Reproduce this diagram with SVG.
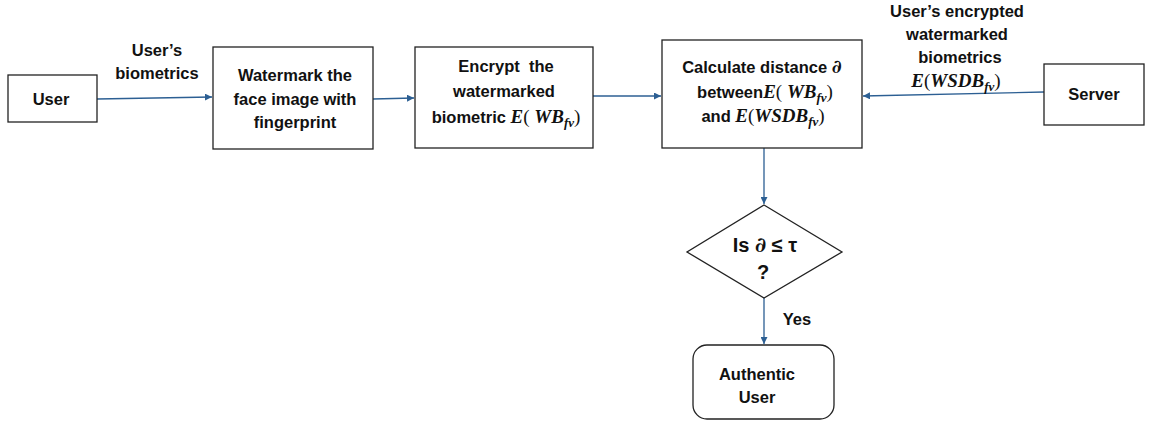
<svg xmlns="http://www.w3.org/2000/svg" width="1149" height="423" viewBox="0 0 1149 423">
  <style>
    .box { fill: #ffffff; stroke: #222222; stroke-width: 1.3; }
    .t { font-family: "Liberation Sans", Arial, sans-serif; font-weight: bold; font-size: 16.5px; fill: #111111; text-anchor: middle; }
    .big { font-size: 20px; }
    .m { font-family: "Liberation Serif", "DejaVu Serif", serif; font-style: italic; font-weight: bold; font-size: 19px; }
    .p { font-family: "Liberation Serif", "DejaVu Serif", serif; font-style: normal; font-weight: normal; font-size: 19px; }
    .d { font-family: "DejaVu Serif", serif; font-style: italic; font-weight: bold; font-size: 19px; }
    .sub { font-size: 13px; }
    .edge { fill: none; stroke: #2c5f93; stroke-width: 1.3; }
  </style>
  <defs>
    <marker id="arrow" viewBox="0 0 10 10" refX="10" refY="5" markerWidth="7" markerHeight="7" markerUnits="userSpaceOnUse" orient="auto">
      <path d="M0,0 L10,5 L0,10 z" fill="#2c5f93"/>
    </marker>
  </defs>
  <rect width="1149" height="423" fill="#ffffff"/>

  <g id="connectors">
    <line class="edge" x1="97" y1="99" x2="212" y2="97" marker-end="url(#arrow)"/>
    <line class="edge" x1="373" y1="99" x2="414" y2="98" marker-end="url(#arrow)"/>
    <line class="edge" x1="593" y1="96" x2="661" y2="96" marker-end="url(#arrow)"/>
    <line class="edge" x1="1044" y1="92" x2="863" y2="96" marker-end="url(#arrow)"/>
    <line class="edge" x1="764" y1="148" x2="764" y2="204" marker-end="url(#arrow)"/>
    <line class="edge" x1="764" y1="298" x2="764" y2="344" marker-end="url(#arrow)"/>
    <text class="t" x="157" y="56">User’s</text>
    <text class="t" x="157" y="79">biometrics</text>
    <text class="t" x="957" y="17">User’s encrypted</text>
    <text class="t" x="957" y="40">watermarked</text>
    <text class="t" x="960" y="63">biometrics</text>
    <text class="t" x="956" y="87"><tspan class="m">E</tspan><tspan class="p">(</tspan><tspan class="m">WSDB</tspan><tspan class="m sub" dy="4">fv</tspan><tspan class="p" dy="-4">)</tspan></text>
    <text class="t" x="797" y="325">Yes</text>
  </g>

  <g id="user">
    <rect class="box" x="8" y="75" width="89" height="47"/>
    <text class="t" x="51" y="105">User</text>
  </g>

  <g id="watermark">
    <rect class="box" x="213" y="47" width="160" height="102"/>
    <text class="t" x="295" y="81">Watermark the</text>
    <text class="t" x="295" y="105">face image with</text>
    <text class="t" x="295" y="128">fingerprint</text>
  </g>

  <g id="encrypt">
    <rect class="box" x="415" y="47" width="178" height="101"/>
    <text class="t" x="506" y="72" xml:space="preserve">Encrypt  the</text>
    <text class="t" x="504" y="97">watermarked</text>
    <text class="t" x="506" y="123">biometric <tspan class="m">E</tspan><tspan class="p">( </tspan><tspan class="m">WB</tspan><tspan class="m sub" dy="4">fv</tspan><tspan class="p" dy="-4">)</tspan></text>
  </g>

  <g id="distance">
    <rect class="box" x="662" y="40" width="200" height="108"/>
    <text class="t" x="762" y="73">Calculate distance <tspan class="d">∂</tspan></text>
    <text class="t" x="765" y="98">between<tspan class="m">E</tspan><tspan class="p">( </tspan><tspan class="m">WB</tspan><tspan class="m sub" dy="4">fv</tspan><tspan class="p" dy="-4">)</tspan></text>
    <text class="t" x="763" y="122">and <tspan class="m">E</tspan><tspan class="p">(</tspan><tspan class="m">WSDB</tspan><tspan class="m sub" dy="4">fv</tspan><tspan class="p" dy="-4">)</tspan></text>
  </g>

  <g id="server">
    <rect class="box" x="1044" y="64" width="100" height="61"/>
    <text class="t" x="1094" y="100">Server</text>
  </g>

  <g id="decision">
    <polygon class="box" points="764,205 842,252 764,298 687,252"/>
    <text class="t big" x="765" y="252">Is <tspan class="d" style="font-size:21px">∂</tspan> ≤ τ</text>
    <text class="t big" x="763" y="279">?</text>
  </g>

  <g id="authentic">
    <rect class="box" x="693" y="345" width="141" height="74" rx="14" ry="14"/>
    <text class="t" x="757" y="380">Authentic</text>
    <text class="t" x="757" y="403">User</text>
  </g>
</svg>
